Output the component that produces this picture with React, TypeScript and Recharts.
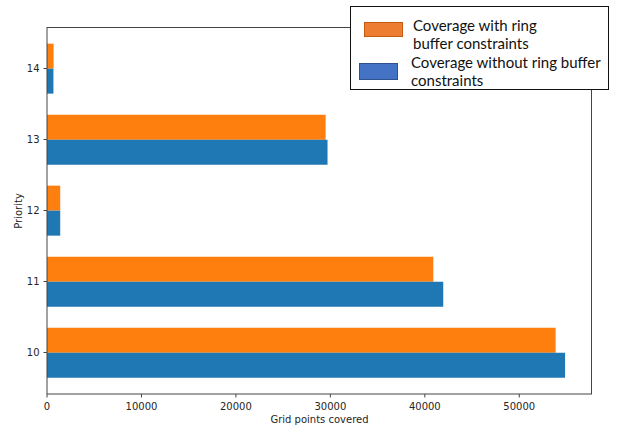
import { BarChart, Bar, XAxis, YAxis } from 'recharts';

const priorities = [10, 11, 12, 13, 14];
const withRing = [53850, 40900, 1400, 29500, 700];
const withoutRing = [54850, 41950, 1400, 29700, 680];
const xTicks = [0, 10000, 20000, 30000, 40000, 50000];

const data = priorities.map((p, i) => ({ p: String(p), withRing: withRing[i], withoutRing: withoutRing[i] }));

const M = { top: 27, right: 25, bottom: 0, left: 0 };
const YW = 47;
const XH = 34;
const W = 617;
const H = 428;
const tickStyle = { fontSize: 10, fill: '#262626', fontFamily: 'DejaVu Sans' };

export default function App() {
  return (
    <div style={{ position: 'absolute', left: 0, top: 0, width: W, height: H, background: '#fff', fontFamily: 'DejaVu Sans' }}>
      <BarChart width={W} height={H} data={data} layout="vertical" margin={M} barCategoryGap="15%" barGap={0}>
        <XAxis type="number" domain={[0, 57700]} ticks={xTicks} height={XH} tick={tickStyle}
          axisLine={{ stroke: '#444' }} tickLine={{ stroke: '#444' }} tickSize={3.5} tickMargin={5} allowDataOverflow />
        <YAxis type="category" dataKey="p" reversed width={YW} padding={{ top: 6, bottom: 6 }} tick={tickStyle}
          axisLine={{ stroke: '#444' }} tickLine={{ stroke: '#444' }} tickSize={3.5} tickMargin={4} />
        <Bar dataKey="withRing" fill="#ff7f0e" isAnimationActive={false} />
        <Bar dataKey="withoutRing" fill="#1f77b4" isAnimationActive={false} />
      </BarChart>
      <div style={{ position: 'absolute', left: YW, top: M.top, width: W - YW - M.right - 1, height: H - M.top - XH - 1, border: '1px solid #444', borderLeft: 'none', borderBottom: 'none', pointerEvents: 'none' }} />
      <div style={{ position: 'absolute', left: 22, width: W - 22, top: 414, textAlign: 'center', fontSize: 10, color: '#262626' }}>Grid points covered</div>
      <div style={{ position: 'absolute', left: 18, top: 211, fontSize: 10, color: '#262626', transform: 'translate(-50%, -50%) rotate(-90deg)', whiteSpace: 'nowrap' }}>Priority</div>
      <div style={{ position: 'absolute', left: 350, top: 6, width: 257, height: 82, border: '1.5px solid #111', background: '#fff', fontFamily: 'Lato', fontSize: 15, color: '#111', lineHeight: '18px' }}>
        <div style={{ position: 'absolute', left: 13, top: 15, width: 37, height: 13, background: '#ed7d31', border: '1px solid #c55a11' }} />
        <div style={{ position: 'absolute', left: 62, top: 9 }}>Coverage with ring<br />buffer constraints</div>
        <div style={{ position: 'absolute', left: 8, top: 56, width: 37, height: 15, background: '#4472c4', border: '1px solid #2f528f' }} />
        <div style={{ position: 'absolute', left: 60, top: 46 }}>Coverage without ring buffer<br />constraints</div>
      </div>
    </div>
  );
}
